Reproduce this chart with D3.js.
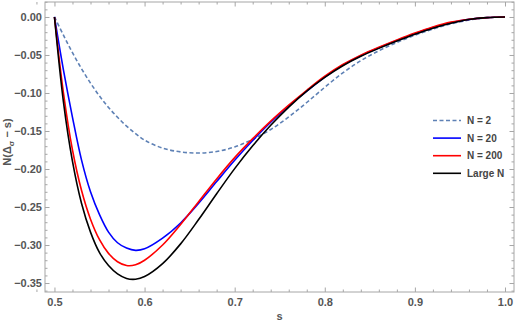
<!DOCTYPE html>
<html>
<head>
<meta charset="utf-8">
<script src="https://cdn.jsdelivr.net/npm/d3@7"></script>
<style>
  body { margin: 0; background: #fff; }
  text { font-family: "Liberation Sans", Arial, sans-serif; }
</style>
</head>
<body>
<div id="chart"></div>
<script>
// data
var sValues = [0.50, 0.51, 0.52, 0.53, 0.54, 0.55, 0.56, 0.57, 0.58, 0.59, 0.60, 0.62, 0.64, 0.66, 0.68, 0.70,
  0.72, 0.74, 0.76, 0.78, 0.80, 0.82, 0.84, 0.86, 0.88, 0.90, 0.92, 0.94, 0.96, 0.98, 1.00];

var n2 = [0, -0.024, -0.047, -0.068, -0.087, -0.104, -0.119, -0.132, -0.1435, -0.1535, -0.162, -0.1725, -0.1775, -0.179, -0.177, -0.171,
  -0.161, -0.148, -0.1315, -0.1125, -0.0925, -0.0735, -0.0575, -0.0445, -0.0335, -0.024, -0.0158, -0.009, -0.004, -0.001, 0];

var n20 = [0, -0.070, -0.132, -0.188, -0.230, -0.260, -0.283, -0.297, -0.304, -0.307, -0.305, -0.291, -0.271, -0.245, -0.2165, -0.1885,
  -0.1625, -0.1385, -0.117, -0.0975, -0.079, -0.0634, -0.051, -0.0406, -0.031, -0.022, -0.014, -0.0076, -0.0032, -0.0008, 0];

var n200 = [0, -0.100, -0.175, -0.228, -0.266, -0.293, -0.311, -0.322, -0.327, -0.326, -0.320, -0.300, -0.273, -0.243, -0.213, -0.185,
  -0.160, -0.137, -0.116, -0.0964, -0.078, -0.0626, -0.0502, -0.0398, -0.0302, -0.0212, -0.0132, -0.0068, -0.003, -0.0008, 0];

var largeN = [0, -0.112, -0.190, -0.245, -0.283, -0.310, -0.327, -0.338, -0.344, -0.345, -0.3415, -0.3245, -0.2985, -0.2665, -0.2325, -0.1995,
  -0.1695, -0.1425, -0.1185, -0.0975, -0.0795, -0.0641, -0.0517, -0.0413, -0.0317, -0.0227, -0.0147, -0.0083, -0.0033, -0.0008, 0];

var seriesNames = ['N = 2', 'N = 20', 'N = 200', 'Large N'];
var xTicks = [0.5, 0.6, 0.7, 0.8, 0.9, 1.0];
var yTicks = [0, -0.05, -0.10, -0.15, -0.20, -0.25, -0.30, -0.35];

var series = [
  {name: seriesNames[0], values: n2, color: '#5e81b5', dash: '4,2.5'},
  {name: seriesNames[1], values: n20, color: '#0000ff', dash: null},
  {name: seriesNames[2], values: n200, color: '#ff0000', dash: null},
  {name: seriesNames[3], values: largeN, color: '#000000', dash: null}
];

var width = 517, height = 324;
var frame = {left: 45, right: 514, top: 2, bottom: 292};

var svg = d3.select('#chart')
  .append('svg')
  .attr('width', width)
  .attr('height', height);

var x = d3.scaleLinear().domain([0.4895, 1.01]).range([frame.left, frame.right]);
var y = d3.scaleLinear().domain([-0.3618, 0.0197]).range([frame.bottom, frame.top]);

var frameColor = '#a6a6a6';
var labelColor = '#555';
var minus = function (v, digits) {
  return d3.format('.' + digits + 'f')(v).replace('-', '\u2212');
};

// minor tick values
var xMinor = d3.range(0.48, 1.011, 0.02).filter(function (d) {
  return Math.abs(Math.round(d * 10) - d * 10) > 0.001;
});
var yMinor = d3.range(-0.36, 0.0201, 0.01).filter(function (d) {
  return Math.abs(Math.round(d * 20) - d * 20) > 0.001;
});

function styleAxis(g) {
  g.select('.domain').remove();
  g.selectAll('line').attr('stroke', frameColor);
  g.selectAll('text')
    .attr('fill', labelColor)
    .style('font-size', '11px')
    .style('font-weight', 'bold');
}

// bottom axis, ticks pointing inward
svg.append('g')
  .attr('transform', 'translate(0,' + frame.bottom + ')')
  .call(d3.axisBottom(x).tickValues(xTicks).tickSizeInner(-4.5).tickSizeOuter(0).tickPadding(6)
    .tickFormat(function (d) { return d3.format('.1f')(d); }))
  .call(styleAxis);
svg.append('g')
  .attr('transform', 'translate(0,' + frame.bottom + ')')
  .call(d3.axisBottom(x).tickValues(xMinor).tickSizeInner(-2.5).tickSizeOuter(0).tickFormat(''))
  .call(styleAxis);

// top axis, no labels
svg.append('g')
  .attr('transform', 'translate(0,' + frame.top + ')')
  .call(d3.axisTop(x).tickValues(xTicks).tickSizeInner(-4.5).tickSizeOuter(0).tickFormat(''))
  .call(styleAxis);
svg.append('g')
  .attr('transform', 'translate(0,' + frame.top + ')')
  .call(d3.axisTop(x).tickValues(xMinor).tickSizeInner(-2.5).tickSizeOuter(0).tickFormat(''))
  .call(styleAxis);

// left axis
svg.append('g')
  .attr('transform', 'translate(' + frame.left + ',0)')
  .call(d3.axisLeft(y).tickValues(yTicks).tickSizeInner(-4.5).tickSizeOuter(0).tickPadding(3)
    .tickFormat(function (d) { return minus(d, 2); }))
  .call(styleAxis);
svg.append('g')
  .attr('transform', 'translate(' + frame.left + ',0)')
  .call(d3.axisLeft(y).tickValues(yMinor).tickSizeInner(-2.5).tickSizeOuter(0).tickFormat(''))
  .call(styleAxis);

// right axis, no labels
svg.append('g')
  .attr('transform', 'translate(' + frame.right + ',0)')
  .call(d3.axisRight(y).tickValues(yTicks).tickSizeInner(-4.5).tickSizeOuter(0).tickFormat(''))
  .call(styleAxis);
svg.append('g')
  .attr('transform', 'translate(' + frame.right + ',0)')
  .call(d3.axisRight(y).tickValues(yMinor).tickSizeInner(-2.5).tickSizeOuter(0).tickFormat(''))
  .call(styleAxis);

// frame
svg.append('rect')
  .attr('x', frame.left)
  .attr('y', frame.top)
  .attr('width', frame.right - frame.left)
  .attr('height', frame.bottom - frame.top)
  .attr('fill', 'none')
  .attr('stroke', frameColor)
  .attr('stroke-width', 1);

// clip the curves to the frame
svg.append('clipPath')
  .attr('id', 'clip')
  .append('rect')
  .attr('x', frame.left)
  .attr('y', frame.top)
  .attr('width', frame.right - frame.left)
  .attr('height', frame.bottom - frame.top);

var line = d3.line()
  .x(function (d) { return x(d[0]); })
  .y(function (d) { return y(d[1]); })
  .curve(d3.curveCatmullRom.alpha(0.5));

svg.append('g')
  .attr('clip-path', 'url(#clip)')
  .selectAll('path')
  .data(series)
  .enter()
  .append('path')
  .attr('d', function (d) {
    return line(sValues.map(function (s, i) { return [s, d.values[i]]; }));
  })
  .attr('fill', 'none')
  .attr('stroke', function (d) { return d.color; })
  .attr('stroke-width', 1.6)
  .attr('stroke-dasharray', function (d) { return d.dash; });

// axis titles
svg.append('text')
  .attr('x', (frame.left + frame.right) / 2)
  .attr('y', 320)
  .attr('text-anchor', 'middle')
  .attr('fill', labelColor)
  .style('font-size', '11px')
  .style('font-weight', 'bold')
  .text('s');

var yTitle = svg.append('text')
  .attr('transform', 'translate(11,142) rotate(-90)')
  .attr('text-anchor', 'middle')
  .attr('fill', labelColor)
  .style('font-size', '11px')
  .style('font-weight', 'bold');
yTitle.append('tspan').text('N(\u0394');
yTitle.append('tspan').attr('dy', 3).style('font-size', '8px').text('\u03c3');
yTitle.append('tspan').attr('dy', -3).text(' \u2212 s)');

// legend
var legend = svg.append('g')
  .selectAll('g')
  .data(series)
  .enter()
  .append('g')
  .attr('transform', function (d, i) { return 'translate(433,' + (120.5 + i * 17.6) + ')'; });

legend.append('line')
  .attr('x1', 0)
  .attr('x2', 28)
  .attr('stroke', function (d) { return d.color; })
  .attr('stroke-width', 1.6)
  .attr('stroke-dasharray', function (d) { return d.dash; });

legend.append('text')
  .attr('x', 34)
  .attr('dy', '0.35em')
  .attr('fill', '#444')
  .style('font-size', '10px')
  .style('font-weight', 'bold')
  .text(function (d) { return d.name; });
</script>
</body>
</html>
